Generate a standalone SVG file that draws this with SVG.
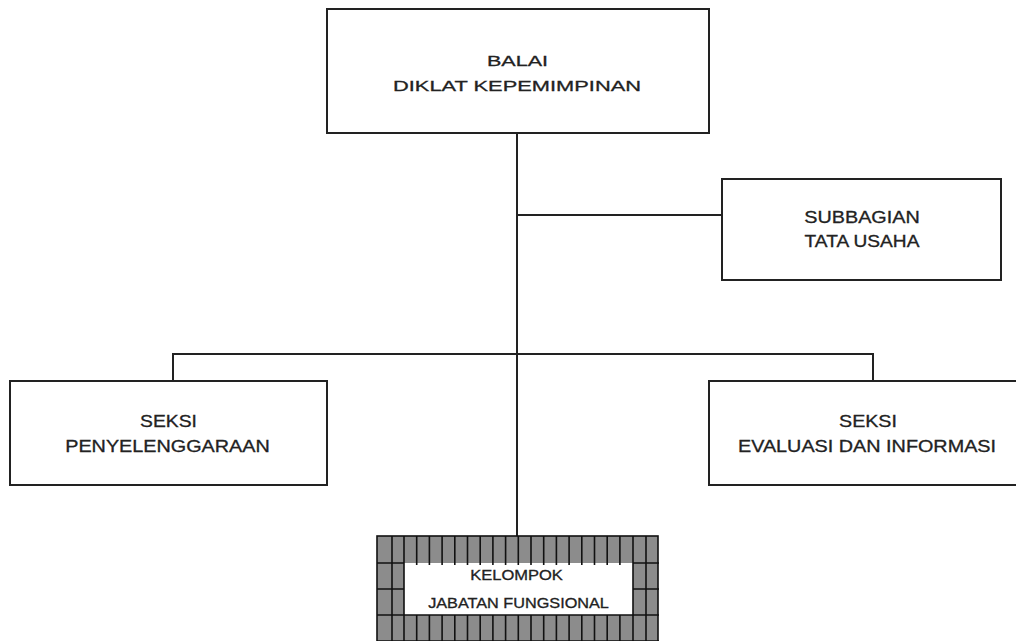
<svg xmlns="http://www.w3.org/2000/svg" width="1016" height="641" viewBox="0 0 1016 641">
<style>
.box{fill:#fff;stroke:#222;stroke-width:2}
.ln{stroke:#222;stroke-width:2;fill:none}
.g{stroke:#111;stroke-width:1.6;fill:none}
text{font-family:"Liberation Sans",Arial,sans-serif;fill:#222;text-anchor:middle;stroke:#222;stroke-width:0.3}
.t15{font-size:15.5px}
.t16{font-size:16.5px}
.t14{font-size:14px}
</style>
<rect width="1016" height="641" fill="#fff"/>
<g id="connectors">
<path class="ln" d="M517 133 V536"/>
<path class="ln" d="M517 215 H722"/>
<path class="ln" d="M173 381 V354 H873 V381"/>
</g>
<g id="balai">
<rect class="box" x="327" y="9" width="382" height="124"/>
<text class="t15" transform="translate(517.5,66) scale(1.39,1)">BALAI</text>
<text class="t15" transform="translate(517,91) scale(1.41,1)">DIKLAT KEPEMIMPINAN</text>
</g>
<g id="subbagian">
<rect class="box" x="722" y="179" width="279" height="101"/>
<text class="t16" transform="translate(862,223) scale(1.2,1)">SUBBAGIAN</text>
<text class="t16" transform="translate(862,247) scale(1.16,1)">TATA USAHA</text>
</g>
<g id="penyelenggaraan">
<rect class="box" x="10" y="381" width="317" height="104"/>
<text class="t16" transform="translate(168.5,427) scale(1.17,1)">SEKSI</text>
<text class="t16" transform="translate(167.5,452) scale(1.2,1)">PENYELENGGARAAN</text>
</g>
<g id="evaluasi">
<rect class="box" x="709" y="381" width="330" height="104"/>
<text class="t16" transform="translate(868,427) scale(1.19,1)">SEKSI</text>
<text class="t16" transform="translate(867,452) scale(1.2,1)">EVALUASI DAN INFORMASI</text>
</g>
<g id="kelompok">
<rect x="377" y="536" width="281" height="110" fill="#8c8c8c" stroke="#111" stroke-width="1.6"/>
<rect x="404" y="563" width="229" height="52" fill="#fff"/>
<path class="g" d="M377 563 H404 M633 563 H659 M377 589 H404 M633 589 H659 M377 615 H659 M377 641 H659"/>
<path class="g" d="M392 536 V641 M404 536 V641 M633 536 V641 M646 536 V641
M416.7 536 V565 M429.4 536 V565 M442.1 536 V565 M454.8 536 V565 M467.5 536 V565 M480.2 536 V565 M492.9 536 V565 M505.6 536 V565 M518.3 536 V565 M531 536 V565 M543.7 536 V565 M556.4 536 V565 M569.1 536 V565 M581.8 536 V565 M594.5 536 V565 M607.2 536 V565 M619.9 536 V565
M416.7 615 V641 M429.4 615 V641 M442.1 615 V641 M454.8 615 V641 M467.5 615 V641 M480.2 615 V641 M492.9 615 V641 M505.6 615 V641 M518.3 615 V641 M531 615 V641 M543.7 615 V641 M556.4 615 V641 M569.1 615 V641 M581.8 615 V641 M594.5 615 V641 M607.2 615 V641 M619.9 615 V641"/>
<text class="t14" transform="translate(516.5,580) scale(1.18,1)">KELOMPOK</text>
<text class="t14" transform="translate(518.5,608) scale(1.16,1)">JABATAN FUNGSIONAL</text>
</g>
</svg>
